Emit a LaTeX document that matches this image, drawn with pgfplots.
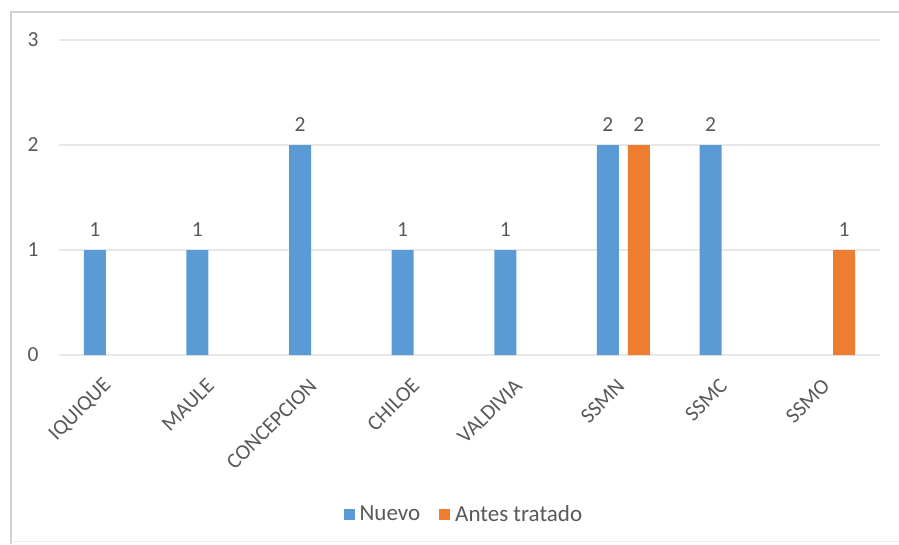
\documentclass[border=0pt]{standalone}
\usepackage{pgfplots}
\pgfplotsset{compat=1.18}
\usepackage{fontspec}
\setmainfont{Carlito}
\definecolor{nuevo}{HTML}{5B9BD5}
\definecolor{antes}{HTML}{ED7D31}
\definecolor{txt}{HTML}{595959}
\definecolor{gridc}{HTML}{E8E8E8}
\definecolor{framec}{HTML}{D0D0D0}

\begin{document}
\begin{tikzpicture}[x=1pt,y=1pt]
\path[use as bounding box] (0,0) rectangle (899,544);
\draw[framec, line width=1.5pt] (11,0) -- (11,532) -- (899,532);
\draw[framec!40, line width=1pt] (11,3) -- (899,3);
\begin{axis}[
  at={(59pt,189pt)}, anchor=south west,
  scale only axis, width=821pt, height=315pt,
  ybar=9pt, bar width=22pt,
  xmin=-0.5, xmax=7.5, ymin=0, ymax=3,
  xtick={0,...,7},
  xticklabels={IQUIQUE,MAULE,CONCEPCION,CHILOE,VALDIVIA,SSMN,SSMC,SSMO},
  ytick={0,1,2,3},
  major tick length=0pt,
  axis line style={draw=none},
  xmajorgrids=false, ymajorgrids=true,
  grid style={draw=gridc, line width=1.2pt},
  font=\fontsize{21.5}{25}\selectfont,
  tick label style={text=txt},
  /pgf/number format/assume math mode=true,
  yticklabel style={anchor=center, xshift=-26pt},
  xticklabel style={xshift=0pt, yshift=-25pt, rotate=45, anchor=east},
  nodes near coords, nodes near coords style={text=txt, yshift=10pt},
  every node near coord/.append style={/pgf/number format/assume math mode=true},
  legend style={at={(0.495,-0.505)}, anchor=center, draw=none,
    legend columns=-1, text=txt, font=\fontsize{23}{27}\selectfont,
    nodes={inner xsep=5pt},
    /tikz/every even column/.append style={column sep=14pt}},
  legend image code/.code={\fill[#1] (0pt,-5.5pt) rectangle (11pt,5.5pt);},
]
\addplot[fill=nuevo, draw=none] coordinates {(0,1) (1,1) (2,2) (3,1) (4,1) (5,2) (6,2)};
\addplot[fill=antes, draw=none] coordinates {(5,2) (7,1)};
\legend{Nuevo,Antes tratado}
\end{axis}
\end{tikzpicture}
\end{document}
